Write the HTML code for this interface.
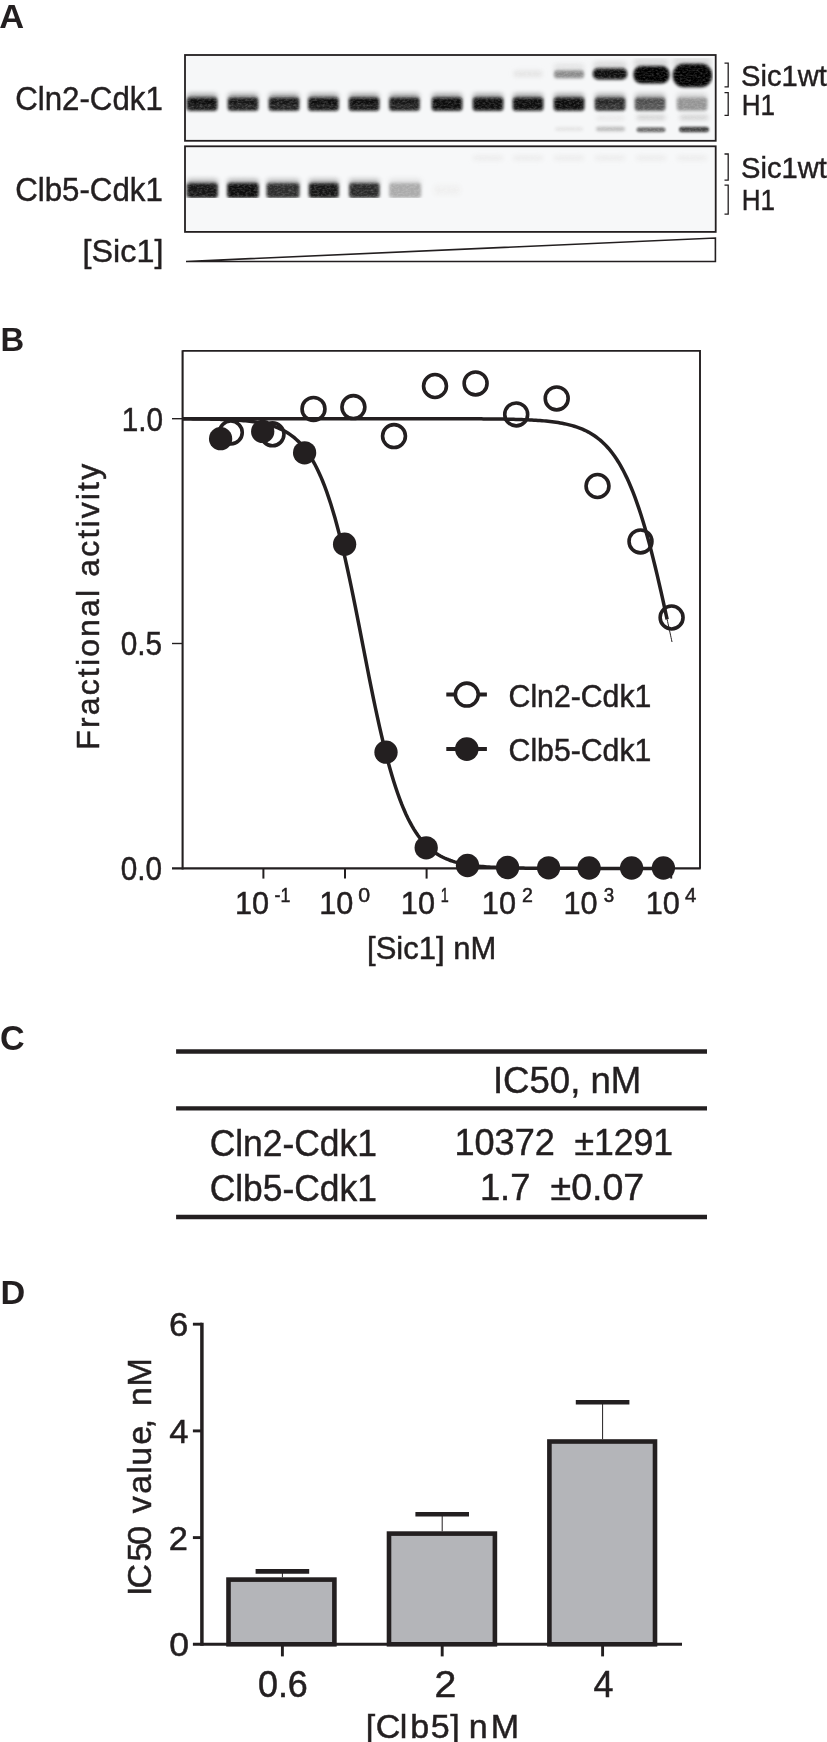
<!DOCTYPE html><html><head><meta charset="utf-8"><style>html,body{margin:0;padding:0;background:#fff;}svg{display:block;will-change:transform;}text{font-family:"Liberation Sans",sans-serif;fill:#231f20;}.m text{stroke:#231f20;stroke-width:0.5px;}.h text{stroke:#231f20;stroke-width:0.45px;}</style></head><body>
<svg width="827" height="1742" viewBox="0 0 827 1742">
<defs>
<filter id="b1_3" x="-50%" y="-100%" width="200%" height="300%"><feGaussianBlur stdDeviation="1.3"/></filter>
<filter id="b1_4" x="-50%" y="-100%" width="200%" height="300%"><feGaussianBlur stdDeviation="1.4"/></filter>
<filter id="b1_5" x="-50%" y="-100%" width="200%" height="300%"><feGaussianBlur stdDeviation="1.5"/></filter>
<filter id="b1_6" x="-50%" y="-100%" width="200%" height="300%"><feGaussianBlur stdDeviation="1.6"/></filter>
<filter id="b2" x="-50%" y="-100%" width="200%" height="300%"><feGaussianBlur stdDeviation="2"/></filter>
<filter id="b2_5" x="-50%" y="-100%" width="200%" height="300%"><feGaussianBlur stdDeviation="2.5"/></filter>
<filter id="grain" x="0" y="0" width="100%" height="100%" color-interpolation-filters="sRGB"><feTurbulence type="fractalNoise" baseFrequency="0.35 0.6" numOctaves="2" seed="7" result="n"/><feColorMatrix in="n" type="matrix" values="0 0 0 0 1  0 0 0 0 1  0 0 0 0 1  0 0 0 0.45 -0.18" result="w"/><feComposite in="w" in2="SourceGraphic" operator="in" result="wm"/><feMerge><feMergeNode in="SourceGraphic"/><feMergeNode in="wm"/></feMerge></filter>
</defs>
<rect width="827" height="1742" fill="#fff"/>
<text x="-0.86" y="28.20" font-size="34.00" textLength="24.87" lengthAdjust="spacingAndGlyphs" font-weight="bold" xml:space="preserve">A</text>
<rect x="185" y="55" width="530.7" height="85.8" fill="#f6f7f8"/>
<rect x="185" y="146.3" width="530.7" height="85.6" fill="#f7f8f9"/>
<g filter="url(#grain)"><rect x="187.0" y="93.5" width="30.0" height="6.5" rx="3" fill="#101010" opacity="0.35" filter="url(#b2_5)"/><rect x="186.8" y="97.4" width="30.5" height="13.4" rx="3.0" fill="#101010" opacity="1.00" filter="url(#b1_5)"/><rect x="189.0" y="105.1" width="26" height="1.6" fill="#fff" opacity="0.16" filter="url(#b1_3)"/><rect x="228.0" y="93.5" width="30.0" height="6.5" rx="3" fill="#141414" opacity="0.35" filter="url(#b2_5)"/><rect x="227.8" y="97.4" width="30.5" height="13.4" rx="3.0" fill="#141414" opacity="1.00" filter="url(#b1_5)"/><rect x="230.0" y="105.1" width="26" height="1.6" fill="#fff" opacity="0.16" filter="url(#b1_3)"/><rect x="269.0" y="93.5" width="30.0" height="6.5" rx="3" fill="#141414" opacity="0.35" filter="url(#b2_5)"/><rect x="268.8" y="97.4" width="30.5" height="13.4" rx="3.0" fill="#141414" opacity="1.00" filter="url(#b1_5)"/><rect x="271.0" y="105.1" width="26" height="1.6" fill="#fff" opacity="0.16" filter="url(#b1_3)"/><rect x="308.5" y="93.5" width="30.0" height="6.5" rx="3" fill="#0f0f0f" opacity="0.35" filter="url(#b2_5)"/><rect x="308.2" y="97.4" width="30.5" height="13.4" rx="3.0" fill="#0f0f0f" opacity="1.00" filter="url(#b1_5)"/><rect x="310.5" y="105.1" width="26" height="1.6" fill="#fff" opacity="0.16" filter="url(#b1_3)"/><rect x="349.0" y="93.5" width="30.0" height="6.5" rx="3" fill="#0d0d0d" opacity="0.35" filter="url(#b2_5)"/><rect x="348.8" y="97.4" width="30.5" height="13.4" rx="3.0" fill="#0d0d0d" opacity="1.00" filter="url(#b1_5)"/><rect x="351.0" y="105.1" width="26" height="1.6" fill="#fff" opacity="0.16" filter="url(#b1_3)"/><rect x="389.5" y="93.5" width="30.0" height="6.5" rx="3" fill="#161616" opacity="0.35" filter="url(#b2_5)"/><rect x="389.2" y="97.4" width="30.5" height="13.4" rx="3.0" fill="#161616" opacity="1.00" filter="url(#b1_5)"/><rect x="391.5" y="105.1" width="26" height="1.6" fill="#fff" opacity="0.16" filter="url(#b1_3)"/><rect x="432.0" y="93.5" width="30.0" height="6.5" rx="3" fill="#080808" opacity="0.35" filter="url(#b2_5)"/><rect x="431.8" y="97.4" width="30.5" height="13.4" rx="3.0" fill="#080808" opacity="1.00" filter="url(#b1_5)"/><rect x="473.0" y="93.5" width="30.0" height="6.5" rx="3" fill="#090909" opacity="0.35" filter="url(#b2_5)"/><rect x="472.8" y="97.4" width="30.5" height="13.4" rx="3.0" fill="#090909" opacity="1.00" filter="url(#b1_5)"/><rect x="513.0" y="93.5" width="30.0" height="6.5" rx="3" fill="#0b0b0b" opacity="0.35" filter="url(#b2_5)"/><rect x="512.8" y="97.4" width="30.5" height="13.4" rx="3.0" fill="#0b0b0b" opacity="1.00" filter="url(#b1_5)"/><rect x="554.0" y="93.5" width="30.0" height="6.5" rx="3" fill="#0c0c0c" opacity="0.35" filter="url(#b2_5)"/><rect x="553.8" y="97.4" width="30.5" height="13.4" rx="3.0" fill="#0c0c0c" opacity="1.00" filter="url(#b1_5)"/><rect x="595.0" y="93.5" width="30.0" height="6.5" rx="3" fill="#262626" opacity="0.35" filter="url(#b2_5)"/><rect x="594.8" y="97.4" width="30.5" height="13.4" rx="3.0" fill="#262626" opacity="1.00" filter="url(#b1_5)"/><rect x="597.0" y="105.1" width="26" height="1.6" fill="#fff" opacity="0.16" filter="url(#b1_3)"/><rect x="635.0" y="93.5" width="30.0" height="6.5" rx="3" fill="#4e4e4e" opacity="0.35" filter="url(#b2_5)"/><rect x="634.8" y="97.4" width="30.5" height="13.4" rx="3.0" fill="#4e4e4e" opacity="1.00" filter="url(#b1_5)"/><rect x="637.0" y="105.1" width="26" height="1.6" fill="#fff" opacity="0.16" filter="url(#b1_3)"/><rect x="677.0" y="93.5" width="30.0" height="6.5" rx="3" fill="#959595" opacity="0.35" filter="url(#b2_5)"/><rect x="676.8" y="97.4" width="30.5" height="13.4" rx="3.0" fill="#959595" opacity="1.00" filter="url(#b1_5)"/><rect x="513.5" y="70.5" width="29.0" height="6.5" rx="3.0" fill="#e4e4e4" opacity="1.00" filter="url(#b2)"/><rect x="554.0" y="64.0" width="30.0" height="7.0" rx="3" fill="#cfcfcf" opacity="0.50" filter="url(#b2_5)"/><rect x="554.0" y="70.2" width="30.0" height="8.0" rx="3.0" fill="#8c8c8c" opacity="1.00" filter="url(#b1_6)"/><rect x="593.5" y="61.5" width="33.0" height="8.5" rx="3" fill="#bdbdbd" opacity="0.50" filter="url(#b2_5)"/><rect x="592.9" y="68.3" width="34.2" height="11.2" rx="5.0" fill="#0c0c0c" opacity="1.00" filter="url(#b1_6)"/><rect x="634.0" y="59.0" width="34.0" height="9.0" rx="3" fill="#b0b0b0" opacity="0.45" filter="url(#b2_5)"/><rect x="633.5" y="66.0" width="36.0" height="17.5" rx="8.0" fill="#050505" opacity="1.00" filter="url(#b1_6)"/><rect x="673.0" y="58.0" width="38.0" height="10.0" rx="3" fill="#a8a8a8" opacity="0.40" filter="url(#b2_5)"/><rect x="672.8" y="63.7" width="39.3" height="23.6" rx="11.0" fill="#030303" opacity="1.00" filter="url(#b1_6)"/><rect x="555.0" y="127.2" width="28.0" height="3.5" rx="3.0" fill="#e2e2e2" opacity="1.00" filter="url(#b1_5)"/><rect x="596.0" y="126.8" width="29.0" height="4.5" rx="3.0" fill="#bcbcbc" opacity="1.00" filter="url(#b1_4)"/><rect x="636.5" y="127.3" width="29.0" height="5.0" rx="3.0" fill="#707070" opacity="1.00" filter="url(#b1_3)"/><rect x="679.0" y="126.8" width="30.0" height="5.5" rx="3.0" fill="#444444" opacity="1.00" filter="url(#b1_3)"/><rect x="636.5" y="115.1" width="29.0" height="5.0" rx="3.0" fill="#d2d2d2" opacity="1.00" filter="url(#b2)"/><rect x="679.5" y="115.1" width="29.0" height="5.0" rx="3.0" fill="#d0d0d0" opacity="1.00" filter="url(#b2)"/><rect x="596.5" y="116.0" width="28.0" height="4.0" rx="3.0" fill="#e6e6e6" opacity="1.00" filter="url(#b2)"/><rect x="186.8" y="179.0" width="31.0" height="6.0" rx="3" fill="#171717" opacity="0.30" filter="url(#b2_5)"/><rect x="186.8" y="182.9" width="31.0" height="15.0" rx="3.0" fill="#171717" opacity="1.00" filter="url(#b1_5)"/><rect x="227.2" y="179.0" width="31.5" height="6.0" rx="3" fill="#070707" opacity="0.30" filter="url(#b2_5)"/><rect x="227.2" y="182.9" width="31.5" height="15.0" rx="3.0" fill="#070707" opacity="1.00" filter="url(#b1_5)"/><rect x="266.5" y="179.0" width="33.0" height="6.0" rx="3" fill="#2f2f2f" opacity="0.30" filter="url(#b2_5)"/><rect x="266.5" y="182.9" width="33.0" height="15.0" rx="3.0" fill="#2f2f2f" opacity="1.00" filter="url(#b1_5)"/><rect x="308.8" y="179.0" width="30.0" height="6.0" rx="3" fill="#141414" opacity="0.30" filter="url(#b2_5)"/><rect x="308.8" y="182.9" width="30.0" height="15.0" rx="3.0" fill="#141414" opacity="1.00" filter="url(#b1_5)"/><rect x="349.1" y="179.0" width="30.5" height="6.0" rx="3" fill="#2c2c2c" opacity="0.30" filter="url(#b2_5)"/><rect x="349.1" y="182.9" width="30.5" height="15.0" rx="3.0" fill="#2c2c2c" opacity="1.00" filter="url(#b1_5)"/><rect x="389.2" y="179.0" width="32.0" height="6.0" rx="3" fill="#ababab" opacity="0.30" filter="url(#b2_5)"/><rect x="389.2" y="182.9" width="32.0" height="15.0" rx="3.0" fill="#ababab" opacity="1.00" filter="url(#b1_5)"/><rect x="434.0" y="185.0" width="26.0" height="10.0" rx="3.0" fill="#f0f0f0" opacity="1.00" filter="url(#b2)"/><rect x="473.0" y="155.5" width="30.0" height="5.0" rx="3.0" fill="#ececec" opacity="1.00" filter="url(#b2)"/><rect x="513.0" y="155.5" width="30.0" height="5.0" rx="3.0" fill="#ececec" opacity="1.00" filter="url(#b2)"/><rect x="554.0" y="155.5" width="30.0" height="5.0" rx="3.0" fill="#ececec" opacity="1.00" filter="url(#b2)"/><rect x="595.0" y="155.5" width="30.0" height="5.0" rx="3.0" fill="#ececec" opacity="1.00" filter="url(#b2)"/><rect x="636.0" y="155.5" width="30.0" height="5.0" rx="3.0" fill="#ececec" opacity="1.00" filter="url(#b2)"/><rect x="677.0" y="155.5" width="30.0" height="5.0" rx="3.0" fill="#ececec" opacity="1.00" filter="url(#b2)"/></g>
<rect x="185" y="55" width="530.7" height="85.8" fill="none" stroke="#231f20" stroke-width="1.8"/>
<rect x="185" y="146.3" width="530.7" height="85.6" fill="none" stroke="#231f20" stroke-width="1.8"/>
<polygon points="186,261.5 715.4,238 715.4,261.5" fill="none" stroke="#231f20" stroke-width="1.6"/>
<g class="h">
<text x="15.21" y="110.40" font-size="32.50" textLength="147.61" lengthAdjust="spacingAndGlyphs" xml:space="preserve">Cln2-Cdk1</text>
<text x="15.21" y="201.00" font-size="32.50" textLength="147.61" lengthAdjust="spacingAndGlyphs" xml:space="preserve">Clb5-Cdk1</text>
<text x="82.60" y="262.20" font-size="31.50" textLength="80.81" lengthAdjust="spacingAndGlyphs" xml:space="preserve">[Sic1]</text>
<path d="M724.5,63.2 H728.2 V86.8 H724.5" fill="none" stroke="#231f20" stroke-width="1.3"/>
<path d="M724.5,92.6 H728.2 V115.3 H724.5" fill="none" stroke="#231f20" stroke-width="1.3"/>
<path d="M724.5,154.0 H728.2 V180.2 H724.5" fill="none" stroke="#231f20" stroke-width="1.3"/>
<path d="M724.5,185.1 H728.2 V214.2 H724.5" fill="none" stroke="#231f20" stroke-width="1.3"/>
<text x="740.98" y="86.10" font-size="30.40" textLength="85.84" lengthAdjust="spacingAndGlyphs" xml:space="preserve">Sic1wt</text>
<text x="741.66" y="114.60" font-size="30.40" textLength="33.31" lengthAdjust="spacingAndGlyphs" xml:space="preserve">H1</text>
<text x="740.98" y="177.60" font-size="30.40" textLength="85.84" lengthAdjust="spacingAndGlyphs" xml:space="preserve">Sic1wt</text>
<text x="741.66" y="209.70" font-size="30.40" textLength="33.31" lengthAdjust="spacingAndGlyphs" xml:space="preserve">H1</text>
</g>
<text x="0.51" y="350.70" font-size="33.70" textLength="23.68" lengthAdjust="spacingAndGlyphs" font-weight="bold" xml:space="preserve">B</text>
<g class="m">
<path d="M182.6,350.9 H700 V868.4" fill="none" stroke="#231f20" stroke-width="1.9"/>
<line x1="182.6" y1="350.2" x2="182.6" y2="869.4" stroke="#231f20" stroke-width="2.1"/>
<line x1="172" y1="868.4" x2="700.7" y2="868.4" stroke="#231f20" stroke-width="2.1"/>
<line x1="172" y1="418.7" x2="182" y2="418.7" stroke="#231f20" stroke-width="1.4"/>
<line x1="172" y1="643.5" x2="182" y2="643.5" stroke="#231f20" stroke-width="1.4"/>
<line x1="263.4" y1="868" x2="263.4" y2="878.6" stroke="#231f20" stroke-width="2"/>
<line x1="345.0" y1="868" x2="345.0" y2="878.6" stroke="#231f20" stroke-width="2"/>
<line x1="426.6" y1="868" x2="426.6" y2="878.6" stroke="#231f20" stroke-width="2"/>
<line x1="508.1" y1="868" x2="508.1" y2="878.6" stroke="#231f20" stroke-width="2"/>
<line x1="589.6" y1="868" x2="589.6" y2="878.6" stroke="#231f20" stroke-width="2"/>
<line x1="671.2" y1="868" x2="671.2" y2="878.6" stroke="#231f20" stroke-width="2"/>
<text x="121.84" y="430.50" font-size="32.50" textLength="41.33" lengthAdjust="spacingAndGlyphs" xml:space="preserve">1.0</text>
<text x="120.74" y="655.20" font-size="32.50" textLength="41.41" lengthAdjust="spacingAndGlyphs" xml:space="preserve">0.5</text>
<text x="120.74" y="880.10" font-size="32.50" textLength="41.32" lengthAdjust="spacingAndGlyphs" xml:space="preserve">0.0</text>
<text x="234.96" y="914.30" font-size="32.00" textLength="34.14" lengthAdjust="spacingAndGlyphs" xml:space="preserve">10</text>
<text x="274.51" y="902.30" font-size="19.50" textLength="15.86" lengthAdjust="spacingAndGlyphs" xml:space="preserve">-1</text>
<text x="319.26" y="914.30" font-size="32.00" textLength="34.14" lengthAdjust="spacingAndGlyphs" xml:space="preserve">10</text>
<text x="358.27" y="902.30" font-size="19.50" textLength="11.87" lengthAdjust="spacingAndGlyphs" xml:space="preserve">0</text>
<text x="400.86" y="914.30" font-size="32.00" textLength="34.14" lengthAdjust="spacingAndGlyphs" xml:space="preserve">10</text>
<text x="440.70" y="902.30" font-size="19.50" textLength="8.00" lengthAdjust="spacingAndGlyphs" xml:space="preserve">1</text>
<text x="481.86" y="914.30" font-size="32.00" textLength="34.14" lengthAdjust="spacingAndGlyphs" xml:space="preserve">10</text>
<text x="521.92" y="902.30" font-size="19.50" textLength="10.87" lengthAdjust="spacingAndGlyphs" xml:space="preserve">2</text>
<text x="563.46" y="914.30" font-size="32.00" textLength="34.14" lengthAdjust="spacingAndGlyphs" xml:space="preserve">10</text>
<text x="603.79" y="902.30" font-size="19.50" textLength="10.44" lengthAdjust="spacingAndGlyphs" xml:space="preserve">3</text>
<text x="645.66" y="914.30" font-size="32.00" textLength="34.14" lengthAdjust="spacingAndGlyphs" xml:space="preserve">10</text>
<text x="684.93" y="902.30" font-size="19.50" textLength="11.37" lengthAdjust="spacingAndGlyphs" xml:space="preserve">4</text>
<text x="367.09" y="958.90" font-size="31.00" textLength="129.15" lengthAdjust="spacingAndGlyphs" xml:space="preserve">[Sic1] nM</text>
<text transform="translate(98.80,747.10) rotate(-90)" x="-2.62" y="0" font-size="32.00" textLength="285.89" lengthAdjust="spacing" xml:space="preserve">Fractional activity</text>
</g>
<path d="M182.72,418.70 L184.73,418.70 L186.75,418.70 L188.77,418.70 L190.79,418.70 L192.81,418.70 L194.83,418.70 L196.84,418.70 L198.86,418.70 L200.88,418.70 L202.90,418.70 L204.92,418.70 L206.94,418.70 L208.95,418.70 L210.97,418.70 L212.99,418.70 L215.01,418.70 L217.03,418.70 L219.05,418.70 L221.06,418.70 L223.08,418.70 L225.10,418.70 L227.12,418.70 L229.14,418.70 L231.16,418.70 L233.17,418.70 L235.19,418.70 L237.21,418.70 L239.23,418.70 L241.25,418.70 L243.27,418.70 L245.28,418.70 L247.30,418.70 L249.32,418.70 L251.34,418.70 L253.36,418.70 L255.38,418.70 L257.39,418.70 L259.41,418.70 L261.43,418.70 L263.45,418.70 L265.47,418.70 L267.49,418.70 L269.51,418.70 L271.52,418.70 L273.54,418.70 L275.56,418.70 L277.58,418.70 L279.60,418.70 L281.62,418.70 L283.63,418.70 L285.65,418.70 L287.67,418.70 L289.69,418.70 L291.71,418.70 L293.73,418.70 L295.74,418.70 L297.76,418.70 L299.78,418.70 L301.80,418.70 L303.82,418.70 L305.84,418.70 L307.85,418.70 L309.87,418.70 L311.89,418.70 L313.91,418.70 L315.93,418.70 L317.95,418.70 L319.96,418.70 L321.98,418.70 L324.00,418.70 L326.02,418.70 L328.04,418.70 L330.06,418.70 L332.07,418.70 L334.09,418.70 L336.11,418.70 L338.13,418.70 L340.15,418.70 L342.17,418.70 L344.18,418.70 L346.20,418.70 L348.22,418.70 L350.24,418.70 L352.26,418.70 L354.28,418.70 L356.29,418.70 L358.31,418.70 L360.33,418.70 L362.35,418.70 L364.37,418.70 L366.39,418.70 L368.40,418.70 L370.42,418.70 L372.44,418.70 L374.46,418.70 L376.48,418.70 L378.50,418.70 L380.52,418.70 L382.53,418.70 L384.55,418.70 L386.57,418.70 L388.59,418.70 L390.61,418.70 L392.63,418.70 L394.64,418.70 L396.66,418.70 L398.68,418.71 L400.70,418.71 L402.72,418.71 L404.74,418.71 L406.75,418.71 L408.77,418.71 L410.79,418.71 L412.81,418.71 L414.83,418.71 L416.85,418.71 L418.86,418.71 L420.88,418.71 L422.90,418.71 L424.92,418.72 L426.94,418.72 L428.96,418.72 L430.97,418.72 L432.99,418.72 L435.01,418.72 L437.03,418.73 L439.05,418.73 L441.07,418.73 L443.08,418.73 L445.10,418.74 L447.12,418.74 L449.14,418.74 L451.16,418.75 L453.18,418.75 L455.19,418.75 L457.21,418.76 L459.23,418.76 L461.25,418.77 L463.27,418.78 L465.29,418.78 L467.30,418.79 L469.32,418.80 L471.34,418.81 L473.36,418.82 L475.38,418.83 L477.40,418.84 L479.41,418.85 L481.43,418.86 L483.45,418.88 L485.47,418.89 L487.49,418.91 L489.51,418.93 L491.52,418.95 L493.54,418.97 L495.56,418.99 L497.58,419.02 L499.60,419.05 L501.62,419.08 L503.64,419.11 L505.65,419.14 L507.67,419.18 L509.69,419.23 L511.71,419.27 L513.73,419.32 L515.75,419.38 L517.76,419.43 L519.78,419.50 L521.80,419.57 L523.82,419.64 L525.84,419.73 L527.86,419.82 L529.87,419.91 L531.89,420.02 L533.91,420.13 L535.93,420.26 L537.95,420.39 L539.97,420.54 L541.98,420.70 L544.00,420.87 L546.02,421.06 L548.04,421.27 L550.06,421.49 L552.08,421.73 L554.09,422.00 L556.11,422.28 L558.13,422.59 L560.15,422.93 L562.17,423.30 L564.19,423.69 L566.20,424.13 L568.22,424.59 L570.24,425.10 L572.26,425.65 L574.28,426.25 L576.30,426.90 L578.31,427.60 L580.33,428.36 L582.35,429.18 L584.37,430.08 L586.39,431.04 L588.41,432.09 L590.42,433.22 L592.44,434.45 L594.46,435.77 L596.48,437.20 L598.50,438.75 L600.52,440.41 L602.53,442.21 L604.55,444.15 L606.57,446.24 L608.59,448.48 L610.61,450.90 L612.63,453.50 L614.65,456.28 L616.66,459.27 L618.68,462.47 L620.70,465.89 L622.72,469.55 L624.74,473.46 L626.76,477.61 L628.77,482.04 L630.79,486.73 L632.81,491.71 L634.83,496.98 L636.85,502.55 L638.87,508.41 L640.88,514.58 L642.90,521.05 L644.92,527.83 L646.94,534.90 L648.96,542.26 L650.98,549.91 L652.99,557.83 L655.01,566.00 L657.03,574.42 L659.05,583.05 L661.07,591.88 L663.09,600.88 L665.10,610.03 L667.12,619.29" fill="none" stroke="#231f20" stroke-width="3.5"/>
<path d="M667.12,619.29 L667.61,621.55 L668.10,623.81 L668.59,626.08 L669.08,628.35 L669.57,630.63 L670.06,632.90 L670.55,635.18 L671.04,637.46 L671.53,639.75 L672.02,642.03" fill="none" stroke="#231f20" stroke-width="1"/>
<path d="M182.72,418.82 L184.74,418.83 L186.77,418.84 L188.80,418.86 L190.83,418.87 L192.86,418.89 L194.89,418.91 L196.92,418.93 L198.94,418.95 L200.97,418.98 L203.00,419.00 L205.03,419.03 L207.06,419.07 L209.09,419.10 L211.12,419.14 L213.14,419.18 L215.17,419.23 L217.20,419.28 L219.23,419.34 L221.26,419.40 L223.29,419.47 L225.32,419.54 L227.34,419.63 L229.37,419.72 L231.40,419.81 L233.43,419.92 L235.46,420.04 L237.49,420.17 L239.52,420.31 L241.54,420.47 L243.57,420.64 L245.60,420.83 L247.63,421.03 L249.66,421.26 L251.69,421.51 L253.71,421.78 L255.74,422.07 L257.77,422.40 L259.80,422.76 L261.83,423.15 L263.86,423.58 L265.89,424.04 L267.91,424.56 L269.94,425.12 L271.97,425.73 L274.00,426.40 L276.03,427.14 L278.06,427.94 L280.09,428.82 L282.11,429.78 L284.14,430.83 L286.17,431.97 L288.20,433.22 L290.23,434.58 L292.26,436.07 L294.29,437.69 L296.31,439.45 L298.34,441.36 L300.37,443.45 L302.40,445.71 L304.43,448.16 L306.46,450.82 L308.49,453.70 L310.51,456.82 L312.54,460.18 L314.57,463.81 L316.60,467.72 L318.63,471.92 L320.66,476.43 L322.69,481.26 L324.71,486.43 L326.74,491.94 L328.77,497.81 L330.80,504.04 L332.83,510.64 L334.86,517.61 L336.89,524.96 L338.91,532.67 L340.94,540.75 L342.97,549.17 L345.00,557.93 L347.03,567.00 L349.06,576.36 L351.09,585.99 L353.11,595.85 L355.14,605.90 L357.17,616.11 L359.20,626.44 L361.23,636.84 L363.26,647.27 L365.29,657.68 L367.31,668.04 L369.34,678.29 L371.37,688.39 L373.40,698.31 L375.43,708.00 L377.46,717.45 L379.49,726.61 L381.51,735.46 L383.54,743.98 L385.57,752.15 L387.60,759.97 L389.63,767.42 L391.66,774.50 L393.69,781.21 L395.71,787.55 L397.74,793.52 L399.77,799.13 L401.80,804.39 L403.83,809.32 L405.86,813.92 L407.89,818.21 L409.91,822.20 L411.94,825.91 L413.97,829.35 L416.00,832.53 L418.03,835.48 L420.06,838.20 L422.09,840.71 L424.11,843.03 L426.14,845.16 L428.17,847.12 L430.20,848.92 L432.23,850.58 L434.26,852.10 L436.29,853.50 L438.31,854.78 L440.34,855.95 L442.37,857.03 L444.40,858.01 L446.43,858.91 L448.46,859.74 L450.48,860.49 L452.51,861.18 L454.54,861.81 L456.57,862.39 L458.60,862.91 L460.63,863.39 L462.66,863.83 L464.68,864.23 L466.71,864.60 L468.74,864.93 L470.77,865.24 L472.80,865.52 L474.83,865.77 L476.86,866.00 L478.88,866.21 L480.91,866.41 L482.94,866.58 L484.97,866.74 L487.00,866.89 L489.03,867.02 L491.06,867.15 L493.08,867.26 L495.11,867.36 L497.14,867.45 L499.17,867.53 L501.20,867.61 L503.23,867.68 L505.26,867.74 L507.28,867.80 L509.31,867.85 L511.34,867.90 L513.37,867.95 L515.40,867.99 L517.43,868.02 L519.46,868.06 L521.48,868.09 L523.51,868.12 L525.54,868.14 L527.57,868.16 L529.60,868.18 L531.63,868.20 L533.66,868.22 L535.68,868.24 L537.71,868.25 L539.74,868.26 L541.77,868.28 L543.80,868.29 L545.83,868.30 L547.86,868.31 L549.88,868.31 L551.91,868.32 L553.94,868.33 L555.97,868.34 L558.00,868.34 L560.03,868.35 L562.06,868.35 L564.08,868.36 L566.11,868.36 L568.14,868.36 L570.17,868.37 L572.20,868.37 L574.23,868.37 L576.26,868.37 L578.28,868.38 L580.31,868.38 L582.34,868.38 L584.37,868.38 L586.40,868.38 L588.43,868.39 L590.46,868.39 L592.48,868.39 L594.51,868.39 L596.54,868.39 L598.57,868.39 L600.60,868.39 L602.63,868.39 L604.66,868.39 L606.68,868.39 L608.71,868.39 L610.74,868.39 L612.77,868.40 L614.80,868.40 L616.83,868.40 L618.86,868.40 L620.88,868.40 L622.91,868.40 L624.94,868.40 L626.97,868.40 L629.00,868.40 L631.03,868.40 L633.05,868.40 L635.08,868.40 L637.11,868.40 L639.14,868.40 L641.17,868.40 L643.20,868.40 L645.23,868.40 L647.25,868.40 L649.28,868.40 L651.31,868.40 L653.34,868.40 L655.37,868.40 L657.40,868.40 L659.43,868.40 L661.45,868.40 L663.48,868.40 L665.51,868.40 L667.54,868.40 L669.57,868.40" fill="none" stroke="#231f20" stroke-width="3.5"/>
<circle cx="230.8" cy="432.5" r="11.45" fill="none" stroke="#231f20" stroke-width="3.6"/>
<circle cx="272.5" cy="434.3" r="11.45" fill="none" stroke="#231f20" stroke-width="3.6"/>
<circle cx="313.5" cy="408.9" r="11.45" fill="none" stroke="#231f20" stroke-width="3.6"/>
<circle cx="353.4" cy="407.1" r="11.45" fill="none" stroke="#231f20" stroke-width="3.6"/>
<circle cx="394.0" cy="436.1" r="11.45" fill="none" stroke="#231f20" stroke-width="3.6"/>
<circle cx="435.0" cy="386.0" r="11.45" fill="none" stroke="#231f20" stroke-width="3.6"/>
<circle cx="475.6" cy="383.4" r="11.45" fill="none" stroke="#231f20" stroke-width="3.6"/>
<circle cx="516.2" cy="414.4" r="11.45" fill="none" stroke="#231f20" stroke-width="3.6"/>
<circle cx="556.7" cy="398.4" r="11.45" fill="none" stroke="#231f20" stroke-width="3.6"/>
<circle cx="597.5" cy="486.0" r="11.45" fill="none" stroke="#231f20" stroke-width="3.6"/>
<circle cx="640.5" cy="541.4" r="11.45" fill="none" stroke="#231f20" stroke-width="3.6"/>
<circle cx="671.6" cy="617.5" r="11.45" fill="none" stroke="#231f20" stroke-width="3.6"/>
<circle cx="220.6" cy="438.7" r="11.65" fill="#231f20"/>
<circle cx="262.7" cy="431.4" r="11.65" fill="#231f20"/>
<circle cx="304.6" cy="452.8" r="11.65" fill="#231f20"/>
<circle cx="344.6" cy="544.2" r="11.65" fill="#231f20"/>
<circle cx="386.0" cy="752.2" r="11.65" fill="#231f20"/>
<circle cx="426.2" cy="847.8" r="11.65" fill="#231f20"/>
<circle cx="467.5" cy="865.5" r="11.65" fill="#231f20"/>
<circle cx="507.6" cy="867.5" r="11.65" fill="#231f20"/>
<circle cx="548.6" cy="867.8" r="11.65" fill="#231f20"/>
<circle cx="589.1" cy="868.0" r="11.65" fill="#231f20"/>
<circle cx="631.6" cy="868.0" r="11.65" fill="#231f20"/>
<circle cx="663.4" cy="868.0" r="11.65" fill="#231f20"/>
<line x1="446.3" y1="694.6" x2="486.9" y2="694.6" stroke="#231f20" stroke-width="4"/>
<circle cx="466.8" cy="694.6" r="11.45" fill="#fff" stroke="#231f20" stroke-width="3.6"/>
<line x1="446.3" y1="749" x2="486.9" y2="749" stroke="#231f20" stroke-width="4"/>
<circle cx="466.8" cy="749.1" r="11.8" fill="#231f20"/>
<g class="m">
<text x="508.56" y="706.90" font-size="32.00" textLength="142.81" lengthAdjust="spacingAndGlyphs" xml:space="preserve">Cln2-Cdk1</text>
<text x="508.56" y="761.10" font-size="32.00" textLength="142.81" lengthAdjust="spacingAndGlyphs" xml:space="preserve">Clb5-Cdk1</text>
</g>
<text x="0.10" y="1049.60" font-size="35.00" textLength="24.63" lengthAdjust="spacingAndGlyphs" font-weight="bold" xml:space="preserve">C</text>
<line x1="176.1" y1="1051.5" x2="707" y2="1051.5" stroke="#231f20" stroke-width="4.3"/>
<line x1="176.1" y1="1108.3" x2="707" y2="1108.3" stroke="#231f20" stroke-width="4.3"/>
<line x1="176.1" y1="1217.0" x2="707" y2="1217.0" stroke="#231f20" stroke-width="4.3"/>
<g class="h">
<text x="492.93" y="1093.00" font-size="37.00" textLength="148.37" lengthAdjust="spacingAndGlyphs" xml:space="preserve">IC50, nM</text>
<text x="209.70" y="1155.60" font-size="36.00" textLength="167.23" lengthAdjust="spacingAndGlyphs" xml:space="preserve">Cln2-Cdk1</text>
<text x="209.70" y="1200.70" font-size="36.00" textLength="167.23" lengthAdjust="spacingAndGlyphs" xml:space="preserve">Clb5-Cdk1</text>
<text x="454.45" y="1154.80" font-size="36.00" textLength="100.36" lengthAdjust="spacingAndGlyphs" xml:space="preserve">10372</text>
<text x="574.47" y="1154.80" font-size="36.00" textLength="98.67" lengthAdjust="spacingAndGlyphs" xml:space="preserve">±1291</text>
<text x="479.93" y="1199.80" font-size="36.00" textLength="50.49" lengthAdjust="spacingAndGlyphs" xml:space="preserve">1.7</text>
<text x="550.61" y="1199.80" font-size="36.00" textLength="93.58" lengthAdjust="spacingAndGlyphs" xml:space="preserve">±0.07</text>
</g>
<text x="0.41" y="1304.00" font-size="33.70" textLength="24.73" lengthAdjust="spacingAndGlyphs" font-weight="bold" xml:space="preserve">D</text>
<rect x="228.50" y="1579.60" width="105.90" height="64.70" fill="#b4b5b9" stroke="#231f20" stroke-width="4.6"/>
<line x1="282.4" y1="1571.4" x2="282.4" y2="1577.3" stroke="#231f20" stroke-width="1"/>
<line x1="255.6" y1="1571.4" x2="309.2" y2="1571.4" stroke="#231f20" stroke-width="4.6"/>
<line x1="282.4" y1="1644.3" x2="282.4" y2="1656.4" stroke="#231f20" stroke-width="2.9"/>
<rect x="389.00" y="1533.60" width="105.90" height="110.70" fill="#b4b5b9" stroke="#231f20" stroke-width="4.6"/>
<line x1="442.2" y1="1514.3" x2="442.2" y2="1531.3" stroke="#231f20" stroke-width="1"/>
<line x1="415.4" y1="1514.3" x2="469.0" y2="1514.3" stroke="#231f20" stroke-width="4.6"/>
<line x1="442.2" y1="1644.3" x2="442.2" y2="1656.4" stroke="#231f20" stroke-width="2.9"/>
<rect x="549.40" y="1441.50" width="105.60" height="202.80" fill="#b4b5b9" stroke="#231f20" stroke-width="4.6"/>
<line x1="602.6" y1="1402.2" x2="602.6" y2="1439.2" stroke="#231f20" stroke-width="1"/>
<line x1="575.8" y1="1402.2" x2="629.4" y2="1402.2" stroke="#231f20" stroke-width="4.6"/>
<line x1="602.6" y1="1644.3" x2="602.6" y2="1656.4" stroke="#231f20" stroke-width="2.9"/>
<line x1="201.9" y1="1322.7" x2="201.9" y2="1645.8" stroke="#231f20" stroke-width="3.5"/>
<line x1="192.9" y1="1644.3" x2="682" y2="1644.3" stroke="#231f20" stroke-width="3"/>
<line x1="192.9" y1="1537.6" x2="202" y2="1537.6" stroke="#231f20" stroke-width="2.9"/>
<line x1="192.9" y1="1430.9" x2="202" y2="1430.9" stroke="#231f20" stroke-width="2.9"/>
<line x1="192.9" y1="1324.2" x2="202" y2="1324.2" stroke="#231f20" stroke-width="2.9"/>
<g class="m">
<text x="169.14" y="1336.30" font-size="34.00" textLength="19.28" lengthAdjust="spacingAndGlyphs" xml:space="preserve">6</text>
<text x="169.20" y="1443.00" font-size="34.00" textLength="19.31" lengthAdjust="spacingAndGlyphs" xml:space="preserve">4</text>
<text x="168.87" y="1549.80" font-size="34.00" textLength="19.17" lengthAdjust="spacingAndGlyphs" xml:space="preserve">2</text>
<text x="169.21" y="1656.30" font-size="34.00" textLength="19.78" lengthAdjust="spacingAndGlyphs" xml:space="preserve">0</text>
<text x="257.90" y="1697.00" font-size="36.50" textLength="49.98" lengthAdjust="spacingAndGlyphs" xml:space="preserve">0.6</text>
<text x="434.62" y="1697.30" font-size="36.50" textLength="21.85" lengthAdjust="spacingAndGlyphs" xml:space="preserve">2</text>
<text x="593.48" y="1697.30" font-size="36.50" textLength="19.98" lengthAdjust="spacingAndGlyphs" xml:space="preserve">4</text>
<text x="365.78 375.77 399.81 410.21 430.64 450.13 459.58 468.74 490.81" y="1738.00" font-size="34.00" xml:space="preserve">[Clb5] nM</text>
<text x="4.06 11.47 38.54 55.37 74.28 86.68 106.36 126.21 134.39 155.26 171.55 180.99 194.04 213.61" y="0.00" font-size="34.00" transform="translate(151.4,1600) rotate(-90)" xml:space="preserve">IC50 value, nM</text>
</g>
</svg></body></html>
